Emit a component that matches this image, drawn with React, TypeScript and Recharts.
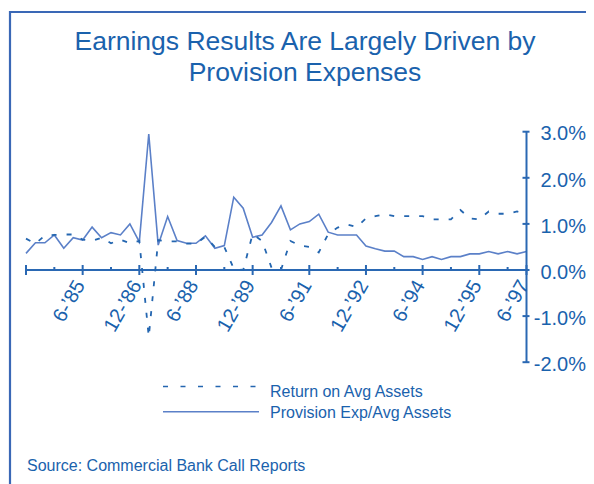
import React from 'react';
import { LineChart, Line, XAxis, YAxis, ReferenceLine } from 'recharts';

const PERIODS = [
  "12-’83",
  "3-’84", "6-’84", "9-’84", "12-’84",
  "3-’85", "6-’85", "9-’85", "12-’85",
  "3-’86", "6-’86", "9-’86", "12-’86",
  "3-’87", "6-’87", "9-’87", "12-’87",
  "3-’88", "6-’88", "9-’88", "12-’88",
  "3-’89", "6-’89", "9-’89", "12-’89",
  "3-’90", "6-’90", "9-’90", "12-’90",
  "3-’91", "6-’91", "9-’91", "12-’91",
  "3-’92", "6-’92", "9-’92", "12-’92",
  "3-’93", "6-’93", "9-’93", "12-’93",
  "3-’94", "6-’94", "9-’94", "12-’94",
  "3-’95", "6-’95", "9-’95", "12-’95",
  "6-’96", "9-’96", "12-’96", "3-’97", "6-’97",
];

const ROA = [
  0.68, 0.57, 0.75, 0.76, 0.77, 0.77, 0.66, 0.63, 0.7, 0.58,
  0.66, 0.58, 0.63, -1.45, 0.65, 0.62, 0.62, 0.57, 0.57, 0.72,
  0.5, 0.5, 0.03, 0.0, 0.78, 0.63, 0.05, 0.0, 0.63, 0.53,
  0.5, 0.38, 0.78, 0.92, 0.99, 0.93, 1.12, 1.17, 1.21, 1.17,
  1.17, 1.17, 1.17, 1.1, 1.1, 1.1, 1.3, 1.12, 1.1, 1.27,
  1.22, 1.22, 1.27, 1.22,
];

const PROVISION = [
  0.36, 0.59, 0.59, 0.76, 0.47, 0.7, 0.65, 0.93, 0.7, 0.81,
  0.76, 1.0, 0.61, 2.95, 0.54, 1.16, 0.64, 0.58, 0.58, 0.74,
  0.47, 0.53, 1.58, 1.34, 0.71, 0.76, 1.03, 1.39, 0.87, 1.0,
  1.05, 1.21, 0.82, 0.76, 0.76, 0.76, 0.52, 0.46, 0.41, 0.41,
  0.29, 0.29, 0.23, 0.29, 0.23, 0.29, 0.29, 0.35, 0.35, 0.4,
  0.35, 0.4, 0.35, 0.4,
];

const X_TICK_LABELS = ["6-’85", "12-’86", "6-’88", "12-’89", "6-’91", "12-’92", "6-’94", "12-’95", "6-’97"];
const Y_TICKS = [-2, -1, 0, 1, 2, 3];
const TITLE_LINES = ["Earnings Results Are Largely Driven by", "Provision Expenses"];
const SERIES_NAMES = ["Return on Avg Assets", "Provision Exp/Avg Assets"];
const SOURCE = "Source: Commercial Bank Call Reports";

const data = PERIODS.map((p, i) => ({ period: p, roa: ROA[i], prov: PROVISION[i] }));
const tickPeriods = PERIODS.filter((_, i) => i % 3 === 0 || X_TICK_LABELS.includes(PERIODS[i]));

const W = 586;
const H = 476;
const Y_MIN = -2;
const Y_MAX = 3;
const MARGIN = { top: 123.7, right: 0, bottom: 120.8, left: 18 };
const X_AXIS_H = 1;
const PLOT_H = H - MARGIN.top - MARGIN.bottom - X_AXIS_H;
const ZERO_Y = MARGIN.top + (PLOT_H * Y_MAX) / (Y_MAX - Y_MIN);

const FONT = '"Liberation Sans", Arial, Helvetica, sans-serif';
const TEXT_COLOR = '#1a62ad';
const AXIS_COLOR = '#2a68b3';
const SOLID_COLOR = '#5b80c8';
const DASH_COLOR = '#2466b0';

const XTick = (props: any) => {
  const { x, payload } = props;
  const v = payload.value as string;
  const labeled = X_TICK_LABELS.includes(v);
  const major = labeled || v === PERIODS[0];
  return (
    <g>
      <line
        x1={x}
        x2={x}
        y1={ZERO_Y - (major ? 5 : 3)}
        y2={ZERO_Y + (major ? 5 : 1)}
        stroke={AXIS_COLOR}
        strokeWidth={2}
      />
      {labeled && (
        <text
          x={x + 3}
          y={ZERO_Y + 15}
          textAnchor="end"
          fontSize={20}
          fontFamily={FONT}
          fill={TEXT_COLOR}
          transform={`rotate(-60 ${x + 3} ${ZERO_Y + 15})`}
        >
          {v}
        </text>
      )}
    </g>
  );
};

const YTick = (props: any) => {
  const { x, y, payload } = props;
  const v = payload.value as number;
  return (
    <g>
      <line x1={x - 4} x2={x + 3} y1={y} y2={y} stroke={AXIS_COLOR} strokeWidth={2} />
      <text
        x={x + 59.5}
        y={y + 8.7}
        textAnchor="end"
        fontSize={20}
        fontFamily={FONT}
        fill={TEXT_COLOR}
      >
        {v.toFixed(1)}%
      </text>
    </g>
  );
};

export default function App() {
  return (
    <div style={{ position: 'relative', width: W, height: H, overflow: 'hidden', background: '#fff' }}>
      <LineChart width={W} height={H} data={data} margin={MARGIN}>
        <XAxis
          dataKey="period"
          height={X_AXIS_H}
          axisLine={false}
          tickLine={false}
          ticks={tickPeriods}
          interval={0}
          tick={<XTick />}
        />
        <YAxis
          orientation="right"
          width={67.5}
          domain={[Y_MIN, Y_MAX]}
          ticks={Y_TICKS}
          allowDataOverflow
          axisLine={{ stroke: AXIS_COLOR, strokeWidth: 2 }}
          tickLine={false}
          tickSize={0}
          tickMargin={0}
          tick={<YTick />}
        />
        <ReferenceLine y={0} stroke={AXIS_COLOR} strokeWidth={2} />
        <Line
          type="linear"
          dataKey="prov"
          stroke={SOLID_COLOR}
          strokeWidth={1.6}
          dot={false}
          activeDot={false}
          isAnimationActive={false}
        />
        <Line
          type="linear"
          dataKey="roa"
          stroke={DASH_COLOR}
          strokeWidth={1.8}
          strokeDasharray="5 10"
          dot={false}
          activeDot={false}
          isAnimationActive={false}
        />
      </LineChart>
      <svg
        width={W}
        height={H}
        style={{ position: 'absolute', left: 0, top: 0, pointerEvents: 'none' }}
      >
        <line x1={2} x2={W} y1={4} y2={4} stroke="#3a68b6" strokeWidth={2.2} />
        <line x1={2} x2={2} y1={3} y2={H} stroke="#3a68b6" strokeWidth={2.2} />
        {TITLE_LINES.map((t, i) => (
          <text
            key={t}
            x={297}
            y={42 + i * 31}
            textAnchor="middle"
            fontSize={26.5}
            fontFamily={FONT}
            fill={TEXT_COLOR}
          >
            {t}
          </text>
        ))}
        <line x1={155} x2={251} y1={378.5} y2={378.5} stroke={DASH_COLOR} strokeWidth={1.6} strokeDasharray="5 12.5" />
        <line x1={155} x2={251} y1={403.7} y2={403.7} stroke={SOLID_COLOR} strokeWidth={1.6} />
        {SERIES_NAMES.map((t, i) => (
          <text key={t} x={262} y={388.7 + i * 21.6} fontSize={16} fontFamily={FONT} fill={TEXT_COLOR}>
            {t}
          </text>
        ))}
        <text x={19} y={462.7} fontSize={16} fontFamily={FONT} fill={TEXT_COLOR}>
          {SOURCE}
        </text>
      </svg>
    </div>
  );
}
